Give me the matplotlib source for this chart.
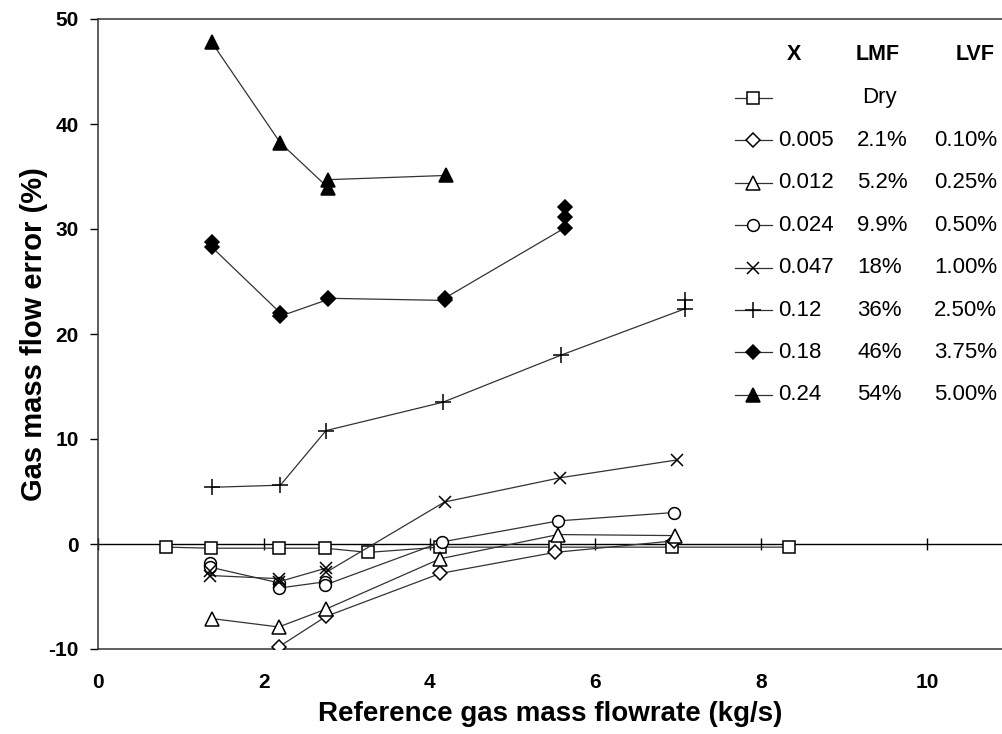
#!/usr/bin/env python3
"""Gas mass flow error vs reference gas mass flowrate for different wetness levels"""

import matplotlib
matplotlib.use('Agg')
import matplotlib.pyplot as plt
from matplotlib.lines import Line2D

plt.rcParams['font.family'] = ['Liberation Sans', 'DejaVu Sans']

# Dry gas
dry_x = [0.82, 1.36, 2.18, 2.74, 3.26, 4.12, 5.51, 6.92, 8.34]
dry_y = [-0.3, -0.4, -0.4, -0.4, -0.8, -0.3, -0.3, -0.3, -0.3]

# X = 0.005
x005_x = [2.18, 2.75, 4.13, 5.51, 6.95]
x005_y = [-9.8, -6.9, -2.8, -0.8, 0.3]

# X = 0.012
x012_x = [1.37, 2.18, 2.75, 4.13, 5.55, 6.96]
x012_y = [-7.1, -7.9, -6.2, -1.4, 0.9, 0.8]

# X = 0.024
x024_x = [1.35, 1.35, 2.18, 2.18, 2.74, 2.74, 4.15, 5.55, 6.95]
x024_y = [-1.8, -2.2, -3.7, -4.2, -3.6, -3.9, 0.2, 2.2, 3.0]

# X = 0.047
x047_x = [1.35, 1.35, 2.18, 2.18, 2.75, 2.75, 4.18, 5.57, 6.98]
x047_y = [-2.6, -3.0, -3.3, -3.6, -2.3, -2.7, 4.0, 6.3, 8.0]

# X = 0.12
x12_x = [1.37, 2.20, 2.75, 4.16, 5.59, 7.08, 7.08]
x12_y = [5.4, 5.6, 10.8, 13.5, 18.0, 22.4, 23.2]

# X = 0.18
x18_x = [1.37, 1.37, 2.20, 2.20, 2.78, 2.78, 4.18, 4.18, 5.63, 5.63, 5.63]
x18_y = [28.8, 28.3, 22.0, 21.7, 23.3, 23.4, 23.2, 23.4, 30.1, 31.1, 32.1]

# X = 0.24
x24_x = [1.37, 2.20, 2.78, 2.78, 4.20]
x24_y = [47.8, 38.2, 33.9, 34.7, 35.1]

# legend table columns
leg_x = ['', '0.005', '0.012', '0.024', '0.047', '0.12', '0.18', '0.24']
leg_lmf = ['Dry', '2.1%', '5.2%', '9.9%', '18%', '36%', '46%', '54%']
leg_lvf = ['', '0.10%', '0.25%', '0.50%', '1.00%', '2.50%', '3.75%', '5.00%']

x_ticks = [0, 2, 4, 6, 8, 10]
y_ticks = [-10, 0, 10, 20, 30, 40, 50]


def make_plot():
    W, H = 1002, 734
    fig = plt.figure(figsize=(W / 100, H / 100), dpi=100)
    ax = fig.add_axes([98 / W, (H - 649) / H, (W - 98) / W, 630 / H])

    series = [
        (dry_x, dry_y, dict(marker='s', mfc='white', ms=8.5)),
        (x005_x, x005_y, dict(marker='D', mfc='white', ms=7.5)),
        (x012_x, x012_y, dict(marker='^', mfc='white', ms=9.5)),
        (x024_x, x024_y, dict(marker='o', mfc='white', ms=8.5)),
        (x047_x, x047_y, dict(marker='x', ms=9)),
        (x12_x, x12_y, dict(marker='+', ms=11)),
        (x18_x, x18_y, dict(marker='D', mfc='black', ms=7.5)),
        (x24_x, x24_y, dict(marker='^', mfc='black', ms=10)),
    ]
    for xs, ys, st in series:
        ax.plot(xs, ys, color='#333333', lw=0.9, mec='black', mew=1.1, zorder=3, **st)

    ax.set_xlim(0, 904 / 82.9)
    ax.set_ylim(-10, 50)
    ax.set_yticks(y_ticks)
    ax.set_xticks(x_ticks)
    ax.set_xticklabels([str(t) for t in x_ticks], fontsize=15, fontweight='bold')
    ax.set_yticklabels([str(t) for t in y_ticks], fontsize=15, fontweight='bold')
    ax.tick_params(axis='x', length=0, pad=17)
    ax.tick_params(axis='y', direction='out', length=6, width=1, pad=8)
    for s in ['left', 'top', 'bottom']:
        ax.spines[s].set_linewidth(1.1)
        ax.spines[s].set_color('#333333')
    ax.spines['right'].set_visible(False)

    # x axis crossing at zero, ticks sit on it
    ax.axhline(0, color='black', lw=1.0, zorder=2)
    zero_axis = ax.secondary_xaxis(1 / 6)
    zero_axis.set_xticks(x_ticks)
    zero_axis.set_xticklabels([])
    zero_axis.tick_params(direction='inout', length=8, width=1)
    zero_axis.spines['bottom'].set_visible(False)
    zero_axis.spines['top'].set_visible(False)

    ax.set_xlabel('Reference gas mass flowrate (kg/s)', fontsize=20, fontweight='bold', labelpad=7)
    ax.set_ylabel('Gas mass flow error (%)', fontsize=21, fontweight='bold', labelpad=0)

    # legend drawn as a small table
    def fy(py):
        return 1 - py / H

    fig.text(794 / W, fy(55), 'X', fontsize=15.5, fontweight='bold', ha='center', va='center')
    fig.text(878 / W, fy(55), 'LMF', fontsize=15.5, fontweight='bold', ha='center', va='center')
    fig.text(975 / W, fy(55), 'LVF', fontsize=15.5, fontweight='bold', ha='center', va='center')
    for i, (xs, ys, st) in enumerate(series):
        py = 98 + 42.4 * i
        fig.add_artist(Line2D([735 / W, 753 / W, 772 / W], [fy(py)] * 3,
                              transform=fig.transFigure, color='#333333', lw=0.9,
                              mec='black', mew=1.1, markevery=[1], **st))
        fig.text(778 / W, fy(py), leg_x[i], fontsize=16, ha='left', va='center')
        lmf_x = 862 if leg_lmf[i] == 'Dry' else 857
        fig.text(lmf_x / W, fy(py), leg_lmf[i], fontsize=16, ha='left', va='center')
        fig.text(997 / W, fy(py), leg_lvf[i], fontsize=16, ha='right', va='center')

    plt.savefig('out.png', dpi=100)


if __name__ == '__main__':
    make_plot()
